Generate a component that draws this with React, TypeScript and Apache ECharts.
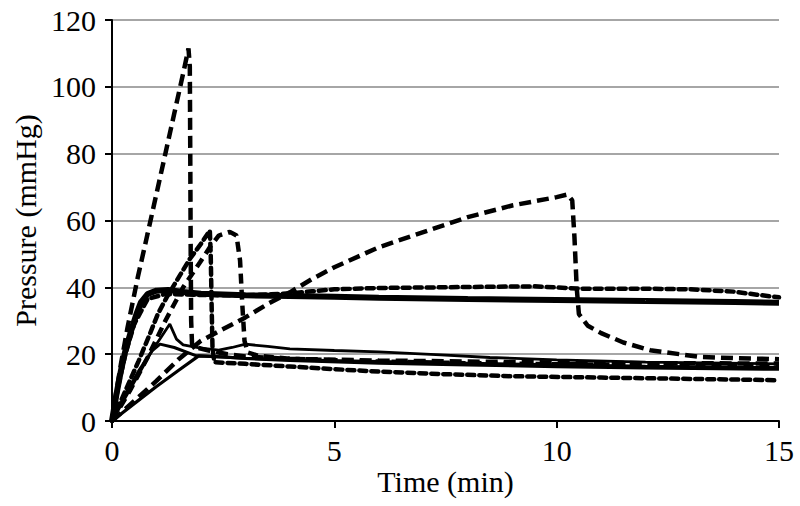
import React, { useEffect, useRef } from "react";
import * as echarts from "echarts";

const xTicks = [0, 5, 10, 15];
const yTicks = [0, 20, 40, 60, 80, 100, 120];

// Thick solid (noisy) trace
const solidThick: [number, number][] = [
  [0, 0], [0.1, 8], [0.2, 15], [0.3, 21], [0.43, 27], [0.55, 32], [0.65, 35.5], [0.8, 38], [1.0, 39], [1.26, 39.2],
  [1.6, 38.6], [2.0, 38.1], [3.0, 37.6], [4.0, 37.4], [5.0, 37.2], [6.0, 36.9], [8.0, 36.5], [10.0, 36.2], [12.0, 35.9], [14.0, 35.6], [15.0, 35.4],
];
// Thin solid with spike at ~1.3 min
const solidSpike: [number, number][] = [
  [0, 0], [0.3, 7], [0.6, 14], [0.9, 21], [1.1, 25], [1.3, 29], [1.45, 24.5], [1.6, 22.8], [2.0, 21.8], [2.4, 21.2],
  [2.7, 22], [3.0, 23], [3.5, 22.3], [4.0, 21.6], [5.0, 21.1], [6.0, 20.7], [7.4, 19.8], [8.5, 19], [10.0, 18.3], [12.0, 17.6], [15.0, 17.1],
];
// Solid with rounded peak ~23 at ~1.1 min
const solidPeak: [number, number][] = [
  [0, 0], [0.3, 8], [0.6, 15], [0.9, 21], [1.08, 23], [1.4, 22], [1.9, 19.5], [3.0, 18.8], [4.0, 18.3], [6.0, 17.8],
  [8.0, 17.3], [10.0, 16.8], [12.0, 16.4], [15.0, 16.0],
];
// Straight-rising solid
const solidRamp: [number, number][] = [
  [0, 0], [0.5, 5.2], [1.0, 10.3], [1.5, 15.2], [1.95, 19.5], [2.5, 19.2], [3.0, 18.7], [4.0, 18.1], [6.0, 17.3],
  [8.0, 16.8], [10.0, 16.3], [12.0, 15.9], [15.0, 15.5],
];
// Dashed, peak 112 at 1.73 min
const dashA: [number, number][] = [
  [0, 0], [0.1, 9], [0.2, 17], [0.35, 28], [0.58, 43], [0.8, 56], [1.0, 68], [1.2, 80], [1.4, 92], [1.6, 104], [1.72, 111.5],
  [1.75, 106], [1.76, 80], [1.77, 50], [1.78, 30], [1.8, 23], [1.9, 22], [2.2, 21], [2.6, 20], [3.0, 19.3], [4.0, 18.6],
  [6.0, 18.1], [8.0, 17.8], [10.0, 17.5], [12.0, 17.3], [15.0, 17.2],
];
// Dashed, peak 57 at 2.2 min, then lowest trace
const dashB: [number, number][] = [
  [0, 0], [0.3, 9], [0.6, 18], [0.85, 26], [1.03, 32], [1.23, 37], [1.5, 43], [1.75, 48.5], [2.0, 53], [2.2, 57],
  [2.22, 50], [2.24, 35], [2.26, 22], [2.3, 17.6], [3.0, 17.1], [4.0, 16.3], [5.0, 15.5], [6.0, 14.8], [7.5, 14.0],
  [9.0, 13.4], [11.0, 13.0], [13.0, 12.6], [15.0, 12.2],
];
// Dashed, plateau ~56 then drop at ~2.95 min
const dashC: [number, number][] = [
  [0, 0], [0.4, 9], [0.8, 19], [1.2, 30], [1.6, 40], [1.98, 47.5], [2.2, 52], [2.4, 55.5], [2.65, 56.6], [2.8, 55.5],
  [2.88, 48], [2.93, 35], [2.98, 24], [3.05, 20.5], [3.3, 19.5], [4.0, 18.6], [6.0, 17.8], [8.0, 17.3], [10.0, 17.0], [12.0, 16.8], [15.0, 16.6],
];
// Dashed, slow rise to 68 at 10.25 min
const dashD: [number, number][] = [
  [0, 0], [0.5, 6], [1.0, 12], [1.5, 18.5], [2.0, 24], [2.5, 27.5], [3.0, 31], [3.5, 35], [4.0, 38.5], [4.5, 42.5],
  [5.0, 46], [6.0, 52], [7.0, 56.5], [8.0, 61], [9.0, 64.5], [10.0, 67], [10.25, 67.8], [10.35, 66], [10.4, 55],
  [10.45, 40], [10.5, 32], [10.7, 28.5], [11.0, 26.3], [11.5, 23.5], [12.1, 21.2], [13.2, 19.2], [14.0, 18.8], [15.0, 18.5],
];
// Round-dashed, plateau ~40
const dashE: [number, number][] = [
  [0, 0], [0.15, 11], [0.3, 20], [0.5, 29], [0.8, 36.5], [1.2, 38], [2.0, 37.7], [3.0, 37.6], [4.0, 38.2], [4.5, 38.8],
  [5.0, 39.4], [6.0, 39.8], [8.0, 40.1], [9.5, 40.3], [10.5, 39.6], [12.0, 39.6], [13.0, 39.4], [14.0, 38.7], [14.5, 37.8], [15.0, 37.0],
];

const FONT = "'Liberation Serif', 'Times New Roman', serif";

export default function App() {
  const ref = useRef<HTMLDivElement>(null);
  useEffect(() => {
    if (!ref.current) return;
    const chart = echarts.init(ref.current, null, { renderer: "svg" });
    const solid = (data: [number, number][], w: number) => ({
      type: "line",
      data,
      showSymbol: false,
      smooth: false,
      lineStyle: { color: "#000", width: w, type: "solid" },
    });
    const dashed = (data: [number, number][], dash: number[], w: number, cap: string) => ({
      type: "line",
      data,
      showSymbol: false,
      lineStyle: { color: "#000", width: w, type: dash, cap },
    });
    chart.setOption({
      animation: false,
      backgroundColor: "#fff",
      grid: { left: 112, right: 21, top: 20, bottom: 85, containLabel: false, outerBoundsMode: "none" },
      xAxis: {
        type: "value",
        min: 0,
        max: 15,
        interval: 5,
        name: "Time (min)",
        nameLocation: "middle",
        nameGap: 45,
        nameMoveOverlap: false,
        nameTextStyle: { fontFamily: FONT, fontSize: 30, color: "#000" },
        axisLine: { show: true, lineStyle: { color: "#000", width: 2 } },
        axisTick: { show: true, inside: false, length: 7, lineStyle: { color: "#000", width: 2 } },
        axisLabel: { fontFamily: FONT, fontSize: 30, color: "#000", margin: 14, formatter: (v: number) => (xTicks.includes(v) ? String(v) : "") },
        splitLine: { show: false },
      },
      yAxis: {
        type: "value",
        min: 0,
        max: 120,
        interval: 20,
        name: "Pressure (mmHg)",
        nameLocation: "middle",
        nameGap: 70,
        nameRotate: 90,
        nameTextStyle: { fontFamily: FONT, fontSize: 30, color: "#000" },
        axisLine: { show: true, lineStyle: { color: "#000", width: 2 } },
        axisTick: { show: true, inside: false, length: 7, lineStyle: { color: "#000", width: 2 } },
        axisLabel: { fontFamily: FONT, fontSize: 30, color: "#000", margin: 16, formatter: (v: number) => (yTicks.includes(v) ? String(v) : "") },
        splitLine: { show: true, lineStyle: { color: "#a6a6a6", width: 2 } },
      },
      series: [
        solid(solidRamp, 3.2),
        solid(solidPeak, 3),
        solid(solidSpike, 2.8),
        dashed(dashB, [7, 5], 4.5, "round"),
        dashed(dashC, [10, 6], 4.5, "butt"),
        dashed(dashA, [12, 6], 4.5, "butt"),
        dashed(dashD, [12, 6], 4.5, "butt"),
        solid(solidThick, 6),
        dashed(dashE, [7, 5], 4.5, "round"),
      ],
    });
    return () => chart.dispose();
  }, []);
  return <div ref={ref} style={{ position: "fixed", left: 0, top: 0, width: 800, height: 506 }} />;
}
